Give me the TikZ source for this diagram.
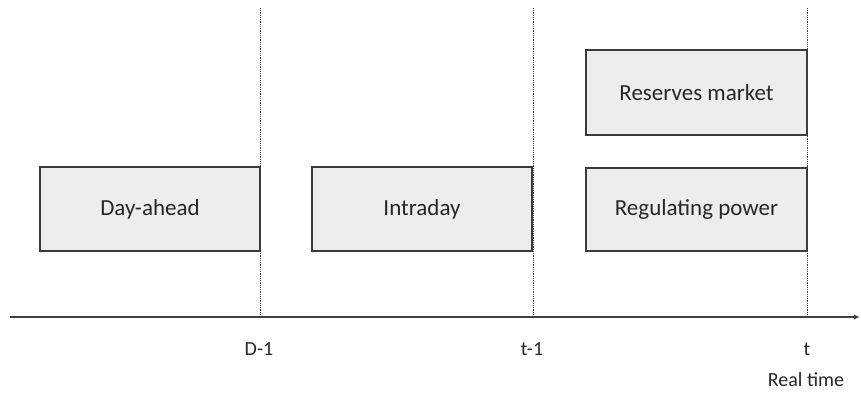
\documentclass[tikz,border=0pt]{standalone}
\usepackage{fontspec}
\setmainfont{Carlito}
\usetikzlibrary{arrows.meta}
\definecolor{boxfill}{HTML}{EDEDED}
\definecolor{boxline}{HTML}{3A3A3A}
\definecolor{ink}{HTML}{262626}
\begin{document}
\begin{tikzpicture}[x=1pt,y=-1pt,
  market/.style={draw=boxline, line width=1.1pt, fill=boxfill, text=ink,
    font=\fontsize{23}{27}\selectfont},
  tick/.style={text=ink, inner sep=0pt, font=\fontsize{20}{24}\selectfont},
  marker/.style={draw=black!75, densely dotted, line width=0.8pt}]
\useasboundingbox (0,0) rectangle (861,392);
% market boxes
\draw[market] (40,167) rectangle (260,251) node[midway] (da) {Day-ahead};
\draw[market] (312,167) rectangle (532,251) node[midway] (id) {Intraday};
\draw[market] (586,50) rectangle (807,135) node[midway] (rm) {Reserves market};
\draw[market] (586,168) rectangle (807,251) node[midway] (rp) {Regulating power};
% time axis
\coordinate (ax0) at (10,317);
\coordinate (ax1) at (860,317);
\draw[line width=1.2pt, draw=black!75, -{Latex[length=6pt,width=5pt]}] (ax0) -- (ax1);
% gate-closure markers
\coordinate (d1top) at (260,8);  \coordinate (d1bot) at (260,317);
\coordinate (t1top) at (533,8);  \coordinate (t1bot) at (533,317);
\coordinate (ttop) at (807,8);   \coordinate (tbot) at (807,317);
\draw[marker] (d1top) -- (d1bot);
\draw[marker] (t1top) -- (t1bot);
\draw[marker] (ttop) -- (tbot);
% labels
\node[tick] (ld1) at (259,349) {D-1};
\node[tick] (lt1) at (532,349) {t-1};
\node[tick] (lt) at (807,349) {t};
\node[tick] (lrt) at (806,380) {Real time};
\end{tikzpicture}
\end{document}
